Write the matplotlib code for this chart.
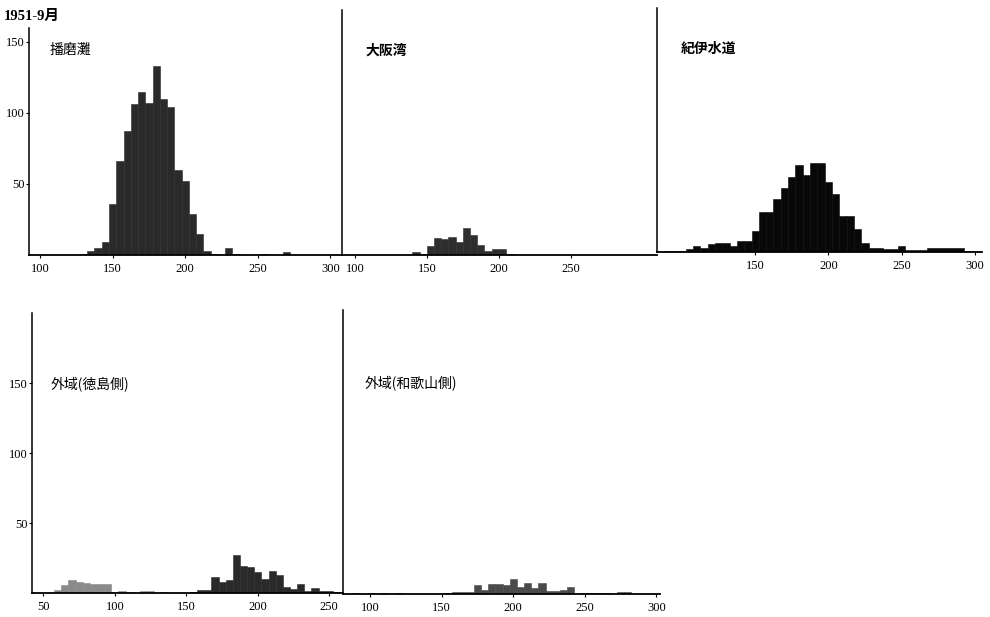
import matplotlib
matplotlib.use("Agg")
import matplotlib.pyplot as plt

W, H = 990, 617

# ---- data (bin centres, counts; 5-unit bins) ----
harima_x = [130, 135, 140, 145, 150, 155, 160, 165, 170, 175, 180, 185, 190, 195,
            200, 205, 210, 215, 220, 230, 235, 255, 270]
harima_y = [1, 3, 5, 9, 36, 66, 87, 106, 115, 107, 133, 110, 104, 60,
            52, 29, 15, 3, 1, 5, 1, 1, 2]

osaka_x = [142.5, 147.5, 152.5, 157.5, 162.5, 167.5, 172.5, 177.5, 182.5, 187.5,
           192.5, 197.5, 202.5, 207.5]
osaka_y = [2, 1, 6, 12, 11, 13, 9, 19, 14, 7, 3, 4.5, 4.5, 1]

kii_x = [90, 95, 100, 105, 110, 115, 120, 125, 130, 135, 140, 145, 150, 155, 160,
         165, 170, 175, 180, 185, 190, 195, 200, 205, 210, 215, 220, 225, 230, 235,
         240, 245, 250, 255, 260, 265, 270, 275, 280, 285, 290, 295, 300]
kii_y = [1, 0.5, 1, 2, 4, 3, 5.5, 6.5, 6, 4, 8, 8, 15, 28, 28,
         37, 45, 53, 61, 54, 63, 63, 49, 41, 25, 25, 16, 6, 3, 3,
         2, 2, 4, 1.5, 1.5, 1.5, 2.5, 2.5, 3, 3, 3, 1, 0.5]

tokushima_x = [60, 65, 70, 75, 80, 85, 90, 95, 100, 105, 110, 120, 125, 135,
               155, 160, 165, 170, 175, 180, 185, 190, 195, 200, 205, 210, 215,
               220, 225, 230, 235, 240, 245, 250, 255]
tokushima_y = [2.4, 6, 9.5, 8, 7, 6.5, 6.5, 6.4, 1, 1.7, 0.5, 1.2, 1.2, 0.5,
               1, 2, 2.5, 11.4, 7.6, 9.5, 27, 19.5, 18.6, 15, 10, 16, 13,
               4.3, 2.9, 6.7, 1.2, 3.6, 1.2, 1.7, 0.5]

wakayama_x = [90, 100, 110, 120, 155, 160, 165, 170, 175, 180, 185, 190, 195, 200,
              205, 210, 215, 220, 225, 230, 235, 240, 250, 255, 260, 265, 275, 280]
wakayama_y = [0.4, 0.4, 0.4, 0.4, 1, 1.5, 1.7, 1.7, 6.2, 2.6, 7.4, 7.4, 6.2, 10.7,
              5, 7.9, 4.3, 7.9, 2.4, 2.4, 3.1, 4.8, 0.7, 0.7, 0.4, 1, 1.2, 1.2]

titles = ["播磨灘", "大阪湾", "紀伊水道", "外域(徳島側)", "外域(和歌山側)"]
header = "1951-9月"
yticks = [50, 100, 150]

fig = plt.figure(figsize=(W / 100, H / 100), dpi=100)
fig.patch.set_facecolor("white")

num_font = ["Liberation Serif", "DejaVu Serif"]
cjk_font = ["Noto Sans CJK JP", "DejaVu Sans"]


def rect(x0, yt, x1, yb):
    return [x0 / W, 1 - yb / H, (x1 - x0) / W, (yb - yt) / H]


def make_ax(r, xlim, ylim, xticks, show_y, left_bounds=None):
    ax = fig.add_axes(r)
    ax.set_xlim(*xlim)
    ax.set_ylim(*ylim)
    ax.patch.set_alpha(0)
    for s in ("top", "right"):
        ax.spines[s].set_visible(False)
    ax.spines["bottom"].set_linewidth(1.3)
    ax.spines["left"].set_linewidth(1.1)
    if left_bounds is not None:
        ax.spines["left"].set_bounds(*left_bounds)
    ax.set_xticks(xticks)
    ax.set_xticklabels([str(t) for t in xticks], fontsize=9, family=num_font)
    ax.tick_params(axis="x", length=2.5, width=0.8, pad=3.5)
    if show_y:
        ax.set_yticks(yticks)
        ax.set_yticklabels([str(t) for t in yticks], fontsize=9, family=num_font)
        ax.tick_params(axis="y", length=2, width=0.8, pad=1)
    else:
        ax.set_yticks([])
    return ax


# top row
ax1 = make_ax(rect(29, 10, 342, 255), (92.4, 308), (0, 172.5),
              [100, 150, 200, 250, 300], True, (0, 160))
ax2 = make_ax(rect(342, 10, 657, 255), (91, 310), (0, 172.5),
              [100, 150, 200, 250], False)
ax3 = make_ax(rect(657, 8, 982, 252), (82.9, 305), (0, 171.8),
              [150, 200, 250, 300], False)
# bottom row
ax4 = make_ax(rect(32, 313, 343, 593), (42, 259.6), (0, 200),
              [50, 100, 150, 200, 250], True)
ax5 = make_ax(rect(343, 310, 660, 594), (81, 302.5), (0, 202.8),
              [100, 150, 200, 250, 300], False)

ax1.bar(harima_x, harima_y, width=5, color="#2a2a2a", edgecolor="#2a2a2a", linewidth=0.4)
ax2.bar(osaka_x, osaka_y, width=5, color="#2e2e2e", edgecolor="#2e2e2e", linewidth=0.4)
ax3.bar(kii_x, kii_y, width=5, color="#080808", edgecolor="#080808", linewidth=0.4)
cols4 = ["#8a8a8a" if x < 150 else "#2a2a2a" for x in tokushima_x]
ax4.bar(tokushima_x, tokushima_y, width=5, color=cols4, edgecolor=cols4, linewidth=0.4)
cols5 = ["#4a4a4a" for _ in wakayama_x]
ax5.bar(wakayama_x, wakayama_y, width=5, color=cols5, edgecolor=cols5, linewidth=0.4)


def ftext(x, y, s, **kw):
    fig.text(x / W, 1 - y / H, s, **kw)


ftext(4, 16, header, fontsize=10.5, family=["Liberation Serif", "Noto Sans CJK JP"],
      fontweight="bold", va="center", ha="left")
ftext(50, 50, titles[0], fontsize=10, family=cjk_font, va="center", ha="left")
ftext(365, 51, titles[1], fontsize=10, family=cjk_font, fontweight="bold", va="center", ha="left")
ftext(681, 49, titles[2], fontsize=10, family=cjk_font, fontweight="bold", va="center", ha="left")
ftext(51, 384, titles[3], fontsize=10, family=cjk_font, va="center", ha="left")
ftext(365, 383, titles[4], fontsize=10, family=cjk_font, va="center", ha="left")

fig.savefig("out.png", dpi=100, facecolor="white")
